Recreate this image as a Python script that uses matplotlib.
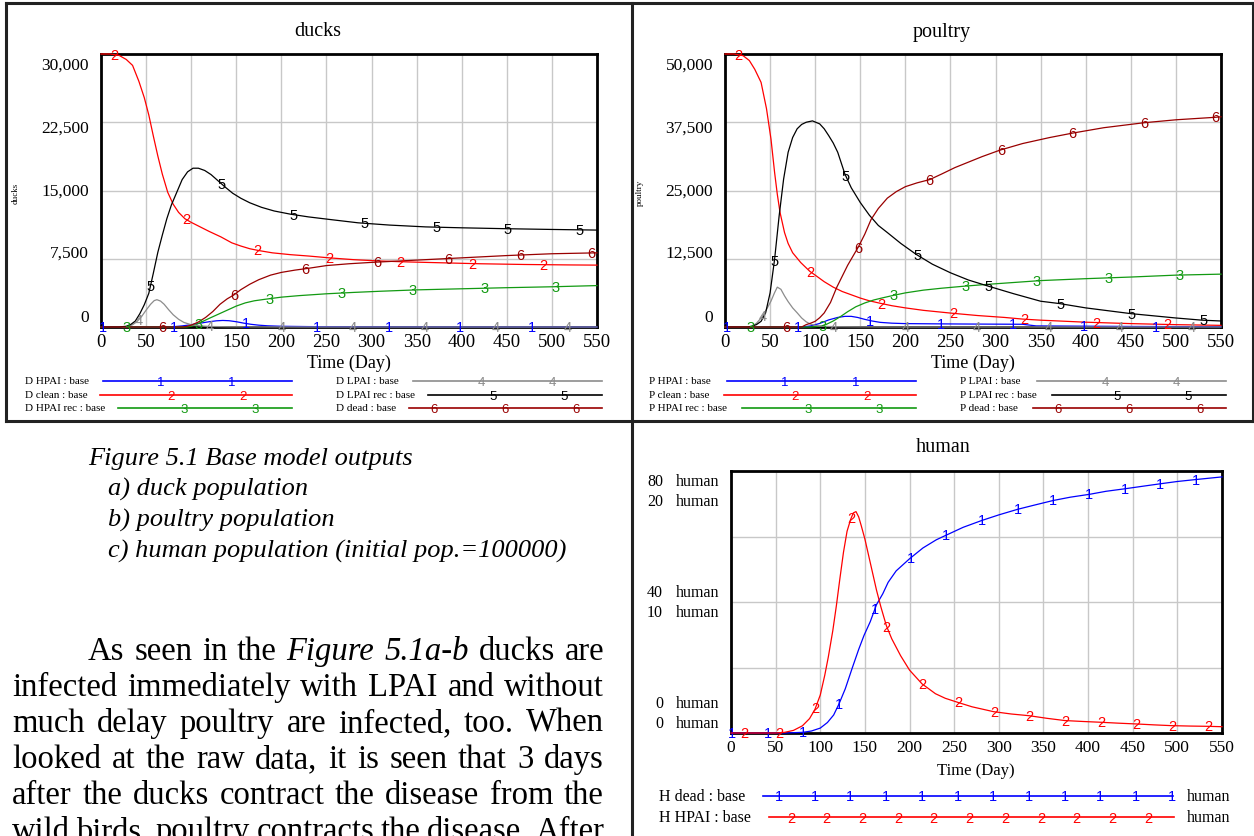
import numpy as np
import matplotlib
matplotlib.use("Agg")
import matplotlib.pyplot as plt
from matplotlib.lines import Line2D

W, H = 1254, 837
plt.rcParams['font.family'] = ['Liberation Serif', 'DejaVu Serif']

# ---------------- data ----------------
# ducks
d_hpai_t = [0, 70, 80, 90, 100, 110, 120, 128, 135, 142, 150, 158, 166, 175, 185, 200, 230, 270, 320, 400, 550]
d_hpai = [0, 0, 30, 120, 250, 420, 580, 680, 720, 690, 580, 430, 300, 200, 130, 80, 45, 25, 15, 5, 0]
d_clean_t = [0, 10, 20, 28, 35, 42, 48, 53, 58, 63, 68, 74, 80, 86, 93, 100, 110, 120, 133, 145, 155, 165,
             175, 190, 210, 230, 253, 280, 310, 340, 380, 420, 470, 520, 550]
d_clean = [30000, 30000, 29850, 29400, 28750, 27000, 25200, 23300, 21000, 18800, 16800, 14800, 13500, 12600,
           11900, 11500, 11000, 10500, 9900, 9250, 8900, 8600, 8400, 8150, 7950, 7800, 7600, 7400, 7250, 7150,
           7050, 6950, 6870, 6820, 6800]
d_hrec_t = [0, 95, 100, 105, 110, 120, 130, 140, 150, 160, 170, 180, 186, 200, 220, 250, 280, 310, 350, 400,
            450, 500, 550]
d_hrec = [0, 0, 80, 250, 480, 950, 1400, 1850, 2300, 2650, 2880, 3020, 3100, 3280, 3450, 3650, 3800, 3930,
          4080, 4200, 4320, 4420, 4550]
d_lpai_t = [0, 25, 30, 35, 40, 45, 50, 55, 59, 62, 66, 70, 75, 80, 86, 92, 100, 110, 120, 140, 170, 220, 550]
d_lpai = [0, 0, 60, 250, 600, 1150, 1850, 2500, 2900, 3000, 2850, 2500, 1900, 1350, 850, 500, 250, 120, 60,
          25, 10, 0, 0]
d_lrec_t = [0, 20, 28, 33, 38, 43, 48, 53, 58, 63, 68, 73, 78, 84, 90, 96, 102, 108, 115, 122, 130, 138, 146,
            155, 165, 178, 192, 210, 230, 255, 285, 320, 360, 400, 450, 500, 550]
d_lrec = [0, 0, 80, 280, 650, 1450, 2450, 3700, 5900, 8200, 10100, 11900, 13400, 14800, 16200, 17050, 17450,
          17450, 17200, 16750, 16050, 15350, 14700, 14150, 13650, 13150, 12750, 12400, 12100, 11800, 11450,
          11200, 11000, 10900, 10800, 10720, 10650]
d_dead_t = [0, 92, 100, 108, 116, 124, 132, 140, 147, 155, 165, 175, 188, 200, 215, 230, 250, 275, 300, 330,
            360, 400, 450, 500, 550]
d_dead = [0, 0, 200, 550, 1050, 1700, 2500, 3100, 3500, 4100, 4700, 5200, 5700, 6000, 6250, 6450, 6750,
          6950, 7100, 7250, 7400, 7600, 7850, 8050, 8150]

# poultry
p_hpai_t = [0, 85, 95, 105, 115, 125, 133, 140, 147, 155, 163, 172, 185, 200, 230, 260, 300, 330, 345, 400, 450, 550]
p_hpai = [0, 0, 200, 650, 1300, 1750, 1950, 1950, 1750, 1400, 1100, 850, 700, 620, 580, 550, 520, 500, 200,
          150, 100, 50]
p_clean_t = [0, 10, 20, 27, 33, 40, 46, 51, 55, 58, 61, 66, 70, 75, 84, 94, 100, 110, 120, 130, 140, 150, 160,
             172, 185, 200, 220, 250, 280, 310, 330, 350, 400, 450, 500, 550]
p_clean = [50000, 50000, 49700, 48800, 47200, 44800, 40000, 34400, 28300, 24300, 21000, 17300, 15300, 13600,
           11800, 10200, 9500, 8300, 7300, 6500, 5900, 5300, 4800, 4350, 3900, 3500, 3050, 2550, 2100, 1750,
           1450, 1250, 880, 620, 430, 300]
p_hrec_t = [0, 95, 100, 106, 112, 120, 128, 136, 145, 155, 165, 175, 187, 200, 220, 240, 265, 290, 320, 350,
            400, 450, 500, 550]
p_hrec = [0, 0, 60, 150, 450, 1100, 1900, 2800, 3700, 4400, 4950, 5350, 5800, 6250, 6750, 7100, 7470, 7800,
          8150, 8500, 8850, 9150, 9500, 9680]
p_lpai_t = [0, 25, 30, 35, 41, 46, 51, 55, 58, 62, 66, 70, 75, 80, 85, 90, 95, 102, 110, 125, 150, 200, 550]
p_lpai = [0, 0, 150, 700, 1840, 3200, 4750, 6300, 7300, 6900, 5700, 4650, 3500, 2600, 1650, 950, 500, 250,
          120, 50, 20, 0, 0]
p_lrec_t = [0, 25, 30, 35, 40, 45, 50, 55, 60, 65, 70, 75, 80, 85, 90, 97, 105, 110, 115, 120, 125, 133, 140,
            150, 160, 170, 180, 195, 212, 230, 250, 270, 292, 320, 350, 371, 400, 450, 500, 529, 550]
p_lrec = [0, 0, 150, 450, 1040, 2570, 6250, 12400, 20300, 27100, 32000, 34700, 36300, 37100, 37500, 37750,
          37200, 36300, 35050, 33700, 32000, 28000, 25500, 22800, 20500, 18600, 17300, 15300, 13300, 11500,
          9930, 8600, 7480, 6100, 4720, 4290, 3500, 2450, 1650, 1250, 1100]
p_dead_t = [0, 85, 90, 95, 100, 105, 110, 117, 124, 130, 136, 142, 148, 155, 162, 170, 180, 190, 200, 213,
            227, 240, 255, 270, 285, 305, 330, 360, 385, 420, 464, 500, 543, 550]
p_dead = [0, 0, 430, 700, 1040, 1700, 2570, 4500, 7300, 9300, 11300, 13000, 14700, 17000, 19700, 21700,
          23600, 24800, 25700, 26400, 27000, 28000, 29200, 30200, 31200, 32400, 33600, 34700, 35500, 36500,
          37400, 37950, 38400, 38500]

# human
h_dead_t = [0, 60, 80, 90, 100, 108, 115, 121, 128, 136, 143, 149, 156, 163, 170, 176, 185, 200, 215, 230,
            241, 260, 281, 300, 321, 340, 361, 380, 402, 420, 442, 460, 481, 500, 521, 550]
h_dead = [0, 0, 0.2, 0.6, 1.5, 3.2, 5.5, 8.9, 13.5, 20.0, 25.5, 29.8, 34.0, 39.2, 42.5, 46.0, 49.5, 53.2,
          56.5, 59.0, 60.4, 62.8, 64.9, 66.6, 68.3, 69.6, 71.0, 72.0, 72.9, 73.8, 74.6, 75.3, 76.1, 76.8,
          77.4, 78.2]
h_hpai_t = [0, 50, 60, 70, 80, 88, 94, 100, 105, 109, 114, 118, 122, 126, 130, 134, 137, 140, 143, 146, 150,
            154, 158, 163, 168, 174, 180, 190, 200, 214, 229, 240, 254, 270, 294, 314, 334, 354, 374, 394,
            414, 434, 454, 474, 494, 514, 534, 550]
h_hpai = [0, 0, 0.05, 0.2, 0.55, 1.1, 1.8, 2.9, 4.4, 5.8, 7.8, 9.7, 11.8, 13.8, 15.4, 16.3, 16.8, 16.9, 16.5,
          15.8, 14.8, 13.6, 12.4, 10.9, 9.6, 8.2, 7.2, 5.9, 4.8, 3.75, 3.0, 2.65, 2.34, 2.0, 1.63, 1.45,
          1.32, 1.12, 0.95, 0.88, 0.82, 0.75, 0.69, 0.62, 0.56, 0.53, 0.51, 0.48]

duck_ticks = [0, 7500, 15000, 22500, 30000]
duck_labels = ['0', '7,500', '15,000', '22,500', '30,000']
poultry_ticks = [0, 12500, 25000, 37500, 50000]
poultry_labels = ['0', '12,500', '25,000', '37,500', '50,000']
x_ticks = list(range(0, 551, 50))

BLUE, RED, GREEN, GRAY, BLACK, DKRED = '#0000ff', '#ff0000', '#129a12', '#8c8c8c', '#000000', '#990000'
COLORS = [BLUE, RED, GREEN, GRAY, BLACK, DKRED]
duck_names = ['D HPAI', 'D clean', 'D HPAI rec', 'D LPAI', 'D LPAI rec', 'D dead']
poultry_names = ['P HPAI', 'P clean', 'P HPAI rec', 'P LPAI', 'P LPAI rec', 'P dead']

fig = plt.figure(figsize=(W / 100, H / 100), dpi=100)
fig.patch.set_facecolor('white')


def fx(x):
    return x / W


def fy(y):
    return 1 - y / H


def add_ax(x0, y0, x1, y1):
    return fig.add_axes([fx(x0), fy(y1), (x1 - x0) / W, (y1 - y0) / H])


def style_ax(ax, ymax, yticks, xsize=13.5):
    ax.set_xlim(0, 550)
    ax.set_ylim(0, ymax)
    ax.set_xticks(x_ticks)
    ax.set_yticks(yticks)
    ax.set_yticklabels([])
    ax.tick_params(length=0, labelsize=xsize, pad=4)
    ax.grid(color='#c8c8c8', lw=1)
    ax.set_axisbelow(True)
    for s in ax.spines.values():
        s.set_linewidth(2)


def digits(ax, t, v, col, d, start, step, size=10.5):
    for m in np.arange(start, 550.5, step):
        ax.text(m, np.interp(m, t, v), d, color=col, ha='center', va='center', fontsize=size,
                family='Liberation Sans', zorder=5, clip_on=False)


def hline(x0, x1, y, col, lw=1.2):
    fig.add_artist(Line2D([fx(x0), fx(x1)], [fy(y), fy(y)], color=col, lw=lw))


def vline(x, y0, y1, col='#222222', lw=2.2):
    fig.add_artist(Line2D([fx(x), fx(x)], [fy(y0), fy(y1)], color=col, lw=lw))


def stock_panel(x0, title, ylab, ymax, yticks, ylabels, series, names):
    ax = add_ax(x0 + 95, 55, x0 + 591, 328)
    style_ax(ax, ymax, yticks)
    for k, (t, v) in enumerate(series):
        ax.plot(t, v, color=COLORS[k], lw=0.9, zorder=3, clip_on=False)
        digits(ax, t, v, COLORS[k], str(k + 1), 2 + 13.2 * k, 79.3)
    offs = [10, 6, 0, -5, -11]
    for val, lab, dy in zip(yticks, ylabels, offs):
        ax.annotate(lab, xy=(0, val), xycoords=('axes fraction', 'data'), xytext=(-12 * 0.72, dy * 0.72),
                    textcoords='offset points', ha='right', va='center', fontsize=12.5)
    fig.text(fx(x0 + 312), fy(32), title, ha='center', va='center', fontsize=14.5)
    fig.text(fx(x0 + 343), fy(363), 'Time (Day)', ha='center', va='center', fontsize=13)
    fig.text(fx(x0 + 10), fy(193), ylab, ha='center', va='center', fontsize=6.5, rotation=90)
    # Vensim style legend
    rows = [382, 396, 409]
    left_lines = [(97, [155, 226]), (94, [165, 237]), (112, [178, 249])]
    right_lines = [(407, [475, 546]), (422, [487, 558]), (403, [428, 499, 570])]
    for i in range(3):
        fig.text(fx(x0 + 19), fy(rows[i]), names[i] + ' : base', fontsize=8, va='center')
        a, ms = left_lines[i]
        hline(x0 + a, x0 + 286, rows[i], COLORS[i])
        for m in ms:
            fig.text(fx(x0 + m), fy(rows[i] + 1), str(i + 1), color=COLORS[i], fontsize=9.5,
                     family='Liberation Sans', ha='center', va='center')
        fig.text(fx(x0 + 330), fy(rows[i]), names[i + 3] + ' : base', fontsize=8, va='center')
        a, ms = right_lines[i]
        hline(x0 + a, x0 + 596, rows[i], COLORS[i + 3])
        for m in ms:
            fig.text(fx(x0 + m), fy(rows[i] + 1), str(i + 4), color=COLORS[i + 3], fontsize=9.5,
                     family='Liberation Sans', ha='center', va='center')
    return ax


stock_panel(6, 'ducks', 'ducks', 30000, duck_ticks, duck_labels,
            [(d_hpai_t, d_hpai), (d_clean_t, d_clean), (d_hrec_t, d_hrec),
             (d_lpai_t, d_lpai), (d_lrec_t, d_lrec), (d_dead_t, d_dead)], duck_names)
stock_panel(630, 'poultry', 'poultry', 50000, poultry_ticks, poultry_labels,
            [(p_hpai_t, p_hpai), (p_clean_t, p_clean), (p_hrec_t, p_hrec),
             (p_lpai_t, p_lpai), (p_lrec_t, p_lrec), (p_dead_t, p_dead)], poultry_names)

# human panel
axh = add_ax(731, 472, 1222, 734)
style_ax(axh, 80, [0, 20, 40, 60, 80], xsize=12.5)
axh.plot(h_dead_t, h_dead, color=BLUE, lw=0.9, zorder=3, clip_on=False)
digits(axh, h_dead_t, h_dead, BLUE, '1', 1, 40, size=10.5)
axr = axh.twinx()
axr.set_ylim(0, 20)
axr.axis('off')
axr.plot(h_hpai_t, h_hpai, color=RED, lw=0.9, zorder=3, clip_on=False)
digits(axr, h_hpai_t, h_hpai, RED, '2', 14.5, 40, size=10.5)
for val, num, dy in [(80, '80', -10), (80, '20', -30), (40, '40', 10), (40, '10', -10), (0, '0', 30), (0, '0', 10)]:
    axh.annotate(num, xy=(0, val), xycoords=('axes fraction', 'data'), xytext=(-68 * 0.72, dy * 0.72),
                 textcoords='offset points', ha='right', va='center', fontsize=11.5)
    axh.annotate('human', xy=(0, val), xycoords=('axes fraction', 'data'), xytext=(-55 * 0.72, dy * 0.72),
                 textcoords='offset points', ha='left', va='center', fontsize=11.5)
fig.text(fx(943), fy(448), 'human', ha='center', va='center', fontsize=14.5)
fig.text(fx(976), fy(771), 'Time (Day)', ha='center', va='center', fontsize=12)
fig.text(fx(659), fy(797), 'H dead : base', fontsize=11.5, va='center')
fig.text(fx(659), fy(818), 'H HPAI : base', fontsize=11.5, va='center')
hline(763, 1173, 797, BLUE)
hline(769, 1174, 818, RED)
for k in range(12):
    fig.text(fx(779 + 35.7 * k), fy(797), '1', color=BLUE, fontsize=10.5, family='Liberation Sans',
             ha='center', va='center')
for k in range(11):
    fig.text(fx(791 + 35.7 * k), fy(819), '2', color=RED, fontsize=10.5, family='Liberation Sans',
             ha='center', va='center')
fig.text(fx(1187), fy(797), 'human', fontsize=11.5, va='center')
fig.text(fx(1187), fy(818), 'human', fontsize=11.5, va='center')

# page frame lines
hline(6, 1254, 4, '#222222', lw=2.2)
hline(6, 1254, 422, '#222222', lw=2.2)
vline(6, 4, 422)
vline(1253, 4, 422)
vline(632, 4, 837)

# caption
fig.text(fx(88), fy(465), 'Figure 5.1 Base model outputs', fontsize=19, style='italic', va='baseline')
for i, s in enumerate(['a) duck population', 'b) poultry population',
                       'c) human population (initial pop.=100000)']):
    fig.text(fx(108), fy(496 + 31 * i), s, fontsize=19, style='italic', va='baseline')

# justified body text (last line is cut by the page edge, as in the source)
body = [
    (88, [('As', 'normal'), ('seen', 'normal'), ('in', 'normal'), ('the', 'normal'), ('Figure', 'italic'),
          ('5.1a-b', 'italic'), ('ducks', 'normal'), ('are', 'normal')]),
    (12, 'infected immediately with LPAI and without'),
    (12, 'much delay poultry are infected, too. When'),
    (12, 'looked at the raw data, it is seen that 3 days'),
    (12, 'after the ducks contract the disease from the'),
    (12, 'wild birds, poultry contracts the disease. After'),
]
renderer = fig.canvas.get_renderer()
for i, (x0, words) in enumerate(body):
    if isinstance(words, str):
        words = [(w, 'normal') for w in words.split()]
    y = 660 + 36 * i
    objs = [fig.text(0, fy(y), w, fontsize=23.5, style=st, va='baseline', ha='left') for w, st in words]
    widths = [o.get_window_extent(renderer).width for o in objs]
    gap = (604 - x0 - sum(widths)) / (len(objs) - 1)
    x = x0
    for o, wd in zip(objs, widths):
        o.set_x(fx(x))
        x += wd + gap

fig.savefig('out.png', dpi=100, facecolor='white')
